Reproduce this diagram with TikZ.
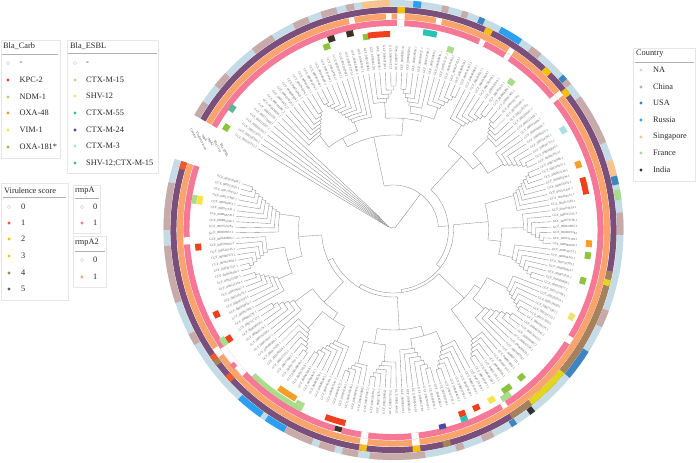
\documentclass[tikz,border=0pt]{standalone}
\usepackage{fontspec}
\setmainfont{Liberation Serif}
\definecolor{na}{HTML}{C5DBE6}
\definecolor{ch}{HTML}{C8AAA8}
\definecolor{usa}{HTML}{3D84C0}
\definecolor{rus}{HTML}{2B9FF0}
\definecolor{sg}{HTML}{F8C48E}
\definecolor{fr}{HTML}{A6DC8E}
\definecolor{ind}{HTML}{333333}
\definecolor{vone}{HTML}{F0592A}
\definecolor{vtwo}{HTML}{F5BF0C}
\definecolor{vthree}{HTML}{E2D61A}
\definecolor{vfour}{HTML}{A6825C}
\definecolor{vfive}{HTML}{7B4F7C}
\definecolor{rmpa}{HTML}{F57896}
\definecolor{rmpb}{HTML}{F9A46C}
\definecolor{kpc}{HTML}{F0401E}
\definecolor{ndm}{HTML}{A8D870}
\definecolor{oxa}{HTML}{F59F2A}
\definecolor{vim}{HTML}{F7E34A}
\definecolor{oxb}{HTML}{8CC43F}
\definecolor{mf}{HTML}{A9DC8B}
\definecolor{shv}{HTML}{EEE17A}
\definecolor{mff}{HTML}{27C4B6}
\definecolor{mtf}{HTML}{4A4AA0}
\definecolor{mt}{HTML}{A8DFE0}
\definecolor{shm}{HTML}{5FB598}
\definecolor{dk}{HTML}{3B3127}
\definecolor{treeg}{HTML}{8C8C8C}
\definecolor{lblg}{HTML}{5E5E5E}
\definecolor{boxg}{HTML}{E6E6E6}
\definecolor{ulg}{HTML}{B0B0B0}
\newcommand\rtip{158}
\newcommand\band[5]{\fill[#5] (#3:#1) arc[start angle=#3,end angle=#4,radius=#1] -- (#4:#2) arc[start angle=#4,end angle=#3,radius=#2] -- cycle;}
\newcommand\cty[3]{\band{223.5}{230}{#1}{#2}{#3}}
\newcommand\vir[3]{\band{217}{223}{#1}{#2}{#3}}
\newcommand\orr[3]{\band{210.5}{216.5}{#1}{#2}{#3}}
\newcommand\pkr[3]{\band{204}{210}{#1}{#2}{#3}}
\newcommand\jn[3]{\draw[br] (#1:#3) arc[start angle=#1,end angle=#2,radius=#3];}
\newcommand\st[3]{\draw[br] (#1:#2) -- (#1:#3);}
\newcommand\cat[5]{%
  \pgfmathsetmacro\cmid{149-(#1+#2)}%
  \draw[br] (\cmid:#5) -- (\cmid:#3);%
  \pgfmathtruncatemacro\nlast{#2-1}%
  \foreach \kk in {#1,...,\nlast}{%
    \pgfmathsetmacro\rk{#3+(\kk-#1)*#4}%
    \pgfmathsetmacro\ak{149-2*\kk}%
    \pgfmathsetmacro\mk{149-(\kk+1+#2)}%
    \pgfmathsetmacro\rn{ifthenelse(\kk<\nlast,#3+(\kk-#1+1)*#4,\rtip)}%
    \draw[br] (\ak:\rtip) -- (\ak:\rk) arc[start angle=\ak,end angle=\mk,radius=\rk] -- (\mk:\rn);%
  }%
}
\newcommand\catr[5]{%
  \pgfmathsetmacro\cmid{149-(#1+#2)}%
  \draw[br] (\cmid:#5) -- (\cmid:#3);%
  \pgfmathtruncatemacro\nj{#2-#1-1}%
  \foreach \jj in {0,...,\nj}{%
    \pgfmathtruncatemacro\kk{#2-\jj}%
    \pgfmathsetmacro\rk{#3+\jj*#4}%
    \pgfmathsetmacro\ak{149-2*\kk}%
    \pgfmathsetmacro\mk{149-(#1+\kk-1)}%
    \pgfmathsetmacro\rn{ifthenelse(\jj<\nj,#3+(\jj+1)*#4,\rtip)}%
    \draw[br] (\ak:\rtip) -- (\ak:\rk) arc[start angle=\ak,end angle=\mk,radius=\rk] -- (\mk:\rn);%
  }%
}
\newcommand\ldot[6]{\fill[#3] (#1,#2) circle (1.7); \node[lg,anchor=west] (#6) at (#4,#2) {#5};}
\newcommand\lopen[5]{\draw[gray!40,line width=0.3pt,fill=white] (#1,#2) circle (1.6); \node[lg,anchor=west] (#5) at (#3,#2) {#4};}
\begin{document}
\begin{tikzpicture}[x=1pt,y=1pt,
  br/.style={draw=treeg,line width=0.35pt},
  lbl/.style={font=\fontsize{3.2}{3.2}\selectfont,text=lblg,inner sep=0pt},
  rl/.style={font=\fontsize{3.3}{3.3}\selectfont,text=black!75,inner sep=0pt},
  lg/.style={font=\fontsize{8.3}{9}\selectfont,inner sep=0pt,text=black!85},
  box/.style={draw=boxg,line width=0.5pt},
  uline/.style={draw=ulg,line width=0.8pt}]
\useasboundingbox (0,0) rectangle (696,463);
\fill[white] (0,0) rectangle (696,463);
\begin{scope}[shift={(393.5,233)}]
% ---- rings: base
\cty{150}{-198}{na}
\vir{150}{-198}{vfive}
\orr{150}{-198}{rmpb}
\pkr{150}{-198}{rmpa}
% ---- country
\cty{150}{146}{ch}\cty{141}{137}{ch}\cty{128}{122}{ch}\cty{116}{112}{ch}
\cty{108.5}{104.5}{ch}\cty{102}{100}{ch}\cty{98}{91}{sg}\cty{85}{83}{rus}
\cty{77.7}{76}{ch}\cty{72.5}{71}{ch}\cty{68}{66.5}{usa}\cty{62}{56}{rus}
\cty{53}{50}{ch}\cty{42.5}{41}{usa}\cty{41}{39.5}{ch}\cty{35.5}{22.5}{ch}
\cty{17.7}{13.7}{sg}\cty{13.7}{11.5}{usa}\cty{10.2}{7.6}{fr}\cty{4.4}{-1.2}{ch}
\cty{-20.6}{-25}{ch}\cty{-32}{-40}{usa}\cty{-52}{-53.5}{ind}\cty{-57.5}{-59}{usa}
\cty{-64}{-67}{ch}\cty{-72}{-74}{ch}\cty{-82}{-96}{ch}\cty{-99}{-103}{ch}
\cty{-105}{-109}{ch}\cty{-111}{-118.5}{ch}\cty{-118.5}{-124}{rus}\cty{-125.5}{-132.5}{rus}
\cty{-150}{-153}{ch}\cty{-161.5}{-176}{ch}\cty{-180}{-192}{ch}
% ---- virulence
\vir{89}{87}{vtwo}\vir{65.5}{63.5}{vtwo}\vir{47}{45}{vtwo}\vir{39.5}{37.5}{vtwo}
\vir{-10.7}{-13}{vfour}\vir{-13}{-14.7}{vthree}\vir{-14.7}{-40}{vfour}
\vir{-40}{-51.6}{vthree}\vir{-51.6}{-57.8}{vfour}\vir{-75}{-77}{vfour}
\vir{-83}{-85}{vtwo}\vir{-97}{-99}{vtwo}\vir{-144}{-145.5}{vone}\vir{-142.5}{-144}{vfour}
\vir{-137}{-139}{vone}\vir{-196}{-198}{vone}
% ---- rmpA2 gaps
\orr{102}{100.5}{white}\orr{92}{90.5}{white}\orr{89}{87}{white}\orr{78.5}{77}{white}
\orr{57.5}{56}{white}\orr{40}{38.5}{white}\orr{-83}{-85}{white}\orr{-97}{-99}{white}
\orr{-144}{-146.5}{white}
% ---- rmpA gaps
\pkr{89}{87}{white}\pkr{65.5}{64}{white}\pkr{57.5}{56}{white}\pkr{40}{38.5}{white}
\pkr{-31}{-33}{white}\pkr{-57}{-58.5}{white}\pkr{-83}{-85}{white}\pkr{-97}{-99}{white}
\pkr{-104.5}{-106.5}{white}\pkr{-136}{-145.5}{white}\pkr{-176}{-178}{white}
\band{207}{212}{-139}{-140.5}{rmpa}
% ---- Bla squares
\band{198}{204}{109}{107}{dk}\band{198}{204}{103.5}{101.5}{dk}
\band{192}{198}{111}{109}{oxb}\band{192}{198}{99}{97}{oxb}
\band{193}{199}{97.5}{91}{kpc}\band{197}{203}{81.5}{77.5}{mff}
\band{186}{192}{73.5}{71.5}{mf}\band{186}{192}{52.5}{50.5}{mf}
\band{194}{200}{31.5}{29.5}{mt}\band{193}{199}{20.5}{18.5}{oxa}
\band{193}{199}{15.5}{10.5}{kpc}\band{193}{199}{-3}{-5}{oxa}
\band{193}{199}{-6.5}{-8.5}{oxb}\band{193}{199}{-14}{-16}{oxb}
\band{195}{201}{-25}{-27}{shv}\band{192}{198}{-48}{-50}{oxb}
\band{192}{198}{-53}{-56}{oxb}\band{198}{204}{-54.5}{-57.5}{mf}
\band{193}{199}{-59}{-61}{vim}\band{193}{199}{-64}{-66}{kpc}
\band{193}{199}{-68.5}{-70.5}{kpc}\band{199}{204}{-68.5}{-70.5}{mff}
\band{200}{205}{-75}{-77}{mtf}\band{204}{209}{-104.5}{-106.5}{dk}
\band{196}{202}{-104}{-110}{kpc}\band{199}{204}{-117}{-134}{mf}
\band{192}{198}{-120}{-126}{oxa}\band{195}{199}{-117}{-119.5}{mf}
\band{194}{200}{-145.5}{-147.5}{kpc}\band{200}{206}{-145.5}{-148}{mf}
\band{193}{199}{-153.5}{-155.5}{kpc}\band{193}{199}{-174}{-176}{kpc}
\band{199}{204}{-187.5}{-190}{mf}\band{193}{199}{-187.5}{-190}{vim}
\band{199}{205}{144}{142}{shm}\band{193}{199}{149.5}{147.5}{oxb}
% ---- ring labels
\node[rl,anchor=west,rotate=-62] (rlc) at (153.5:226.75) {Country};
\node[rl,anchor=west,rotate=-62] (rlv) at (153.5:220) {Virulence score};
\node[rl,anchor=west,rotate=-62] (rla) at (153.5:213.5) {rmpA};
\node[rl,anchor=west,rotate=-62] (rlb) at (153.5:207) {rmpA2};
\node[rl,anchor=west,rotate=-62] (rlk) at (153.5:200) {Bla\_Carb};
\node[rl,anchor=west,rotate=-62] (rle) at (153.5:193) {Bla\_ESBL};
% ---- tree
\jn{143}{53.1}{3}
\st{53.1}{3}{45}
\cat{0}{6}{6}{2.5}{3}
\jn{102}{4.3}{45}
\st{102}{45}{95}
\st{4.3}{45}{55}
\jn{119}{85}{95}
\st{119}{95}{105}
\st{85}{95}{112}
\jn{128}{110}{105}
\cat{7}{14}{120}{3}{105}
\catr{15}{24}{115}{3.5}{105}
\jn{94}{76}{112}
\cat{25}{30}{128}{4}{112}
\st{76}{112}{118}
\jn{82}{70}{118}
\catr{31}{36}{125}{4}{118}
\cat{37}{42}{130}{4}{118}
\jn{47.25}{-38.7}{55}
\st{47.25}{55}{100}
\st{-38.7}{55}{60}
\jn{57}{37.5}{100}
\cat{43}{49}{125}{4}{100}
\st{37.5}{100}{110}
\jn{44}{31}{110}
\catr{50}{55}{132}{3.5}{110}
\cat{56}{62}{128}{4}{110}
\jn{5}{-82.45}{60}
\st{5}{60}{95}
\st{-82.45}{60}{63}
\jn{16}{-6}{95}
\catr{63}{70}{125}{3.5}{95}
\st{-6}{95}{108}
\jn{1}{-13}{108}
\cat{71}{77}{130}{4}{108}
\cat{78}{84}{122}{4.5}{108}
\jn{-44}{-120.9}{63}
\st{-44}{63}{98}
\st{-120.9}{63}{67}
\jn{-34}{-54}{98}
\st{-34}{98}{105}
\jn{-27}{-41}{105}
\cat{85}{91}{128}{4}{105}
\catr{92}{98}{120}{5}{105}
\cat{99}{104}{135}{3.5}{98}
\jn{-86.75}{-155}{67}
\st{-86.75}{67}{100}
\st{-155}{67}{72}
\jn{-74}{-99.5}{100}
\st{-74}{100}{110}
\jn{-67}{-81}{110}
\cat{105}{111}{126}{4}{110}
\catr{112}{118}{120}{4.5}{110}
\st{-99.5}{100}{115}
\jn{-94}{-105}{115}
\cat{119}{124}{132}{4}{115}
\cat{125}{129}{138}{3.5}{115}
\jn{-134}{-176}{72}
\st{-134}{72}{100}
\st{-176}{72}{95}
\jn{-124}{-144}{100}
\st{-124}{100}{108}
\jn{-117}{-131}{108}
\cat{130}{136}{125}{4}{108}
\catr{137}{143}{130}{4}{108}
\cat{144}{149}{122}{5}{100}
\jn{-164}{-188}{95}
\st{-164}{95}{110}
\jn{-157}{-171}{110}
\cat{150}{156}{125}{4}{110}
\catr{157}{163}{128}{4}{110}
\cat{164}{173}{115}{4}{95}
% ---- leaf labels
\foreach \ii in {0,...,173}{%
  \pgfmathsetmacro\ang{149-2*\ii}%
  \pgfmathtruncatemacro\flip{or(\ang>90,\ang<-90)}%
  \pgfmathtruncatemacro\nb{mod(\ii*53+7,900)+100}%
  \pgfmathtruncatemacro\nc{mod(\ii*71+13,900)+100}%
  \ifnum\flip=1
    \node[lbl,anchor=east,rotate=\ang+180] (l\ii) at (\ang:159.5) {GCF\_000\nb\nc.1};
  \else
    \node[lbl,anchor=west,rotate=\ang] (l\ii) at (\ang:159.5) {GCF\_000\nb\nc.1};
  \fi
}
\end{scope}
% ---- legends
% Bla_Carb
\draw[box] (1,423) rectangle (60,305);
\node[lg,anchor=west] (tcarb) at (3,416.5) {Bla\_Carb};
\draw[uline] (2,409) -- (58,409);
\lopen{8}{400}{19.5}{-}{c0}
\ldot{8}{383}{kpc}{19.5}{KPC-2}{c1}
\ldot{8}{366}{ndm}{19.5}{NDM-1}{c2}
\ldot{8}{350}{oxa}{19.5}{OXA-48}{c3}
\ldot{8}{333}{vim}{19.5}{VIM-1}{c4}
\ldot{8}{316}{oxb}{19.5}{OXA-181*}{c5}
% Bla_ESBL
\draw[box] (67,423) rectangle (158,290);
\node[lg,anchor=west] (tesbl) at (70,416.5) {Bla\_ESBL};
\draw[uline] (68,410) -- (157,410);
\lopen{75}{400}{86}{-}{e0}
\ldot{75}{383}{mf}{86}{CTX-M-15}{e1}
\ldot{75}{367}{shv}{86}{SHV-12}{e2}
\ldot{75}{350}{mff}{86}{CTX-M-55}{e3}
\ldot{75}{333}{mtf}{86}{CTX-M-24}{e4}
\ldot{75}{317}{mt}{86}{CTX-M-3}{e5}
\ldot{75}{300}{shm}{86}{SHV-12;CTX-M-15}{e6}
% Virulence score
\draw[box] (1,280) rectangle (68,163);
\node[lg,anchor=west] (tvir) at (4,272) {Virulence score};
\draw[uline] (3,266) -- (66,266);
\lopen{9}{256}{21}{0}{v0}
\ldot{9}{240}{vone}{21}{1}{v1}
\ldot{9}{224}{vtwo}{21}{2}{v2}
\ldot{9}{207}{vthree}{21}{3}{v3}
\ldot{9}{190}{vfour}{21}{4}{v4}
\ldot{9}{174}{vfive}{21}{5}{v5}
% rmpA
\draw[box] (73,278) rectangle (100,230);
\node[lg,anchor=west] (trmpa) at (75,272) {rmpA};
\draw[uline] (75,265) -- (99,265);
\lopen{82}{256}{93}{0}{a0}
\ldot{82}{240}{rmpa}{93}{1}{a1}
% rmpA2
\draw[box] (73,227) rectangle (106,176);
\node[lg,anchor=west] (trmpb) at (75,220) {rmpA2};
\draw[uline] (75,212) -- (105,212);
\lopen{82}{203}{93}{0}{b0}
\ldot{82}{186}{rmpb}{93}{1}{b1}
% Country
\draw[box] (633,415) rectangle (695.5,282);
\node[lg,anchor=west] (tcty) at (636,409) {Country};
\draw[uline] (635,401) -- (694,401);
\ldot{641}{393}{na}{653}{NA}{k0}
\ldot{641}{376}{ch}{653}{China}{k1}
\ldot{641}{360}{usa}{653}{USA}{k2}
\ldot{641}{343}{rus}{653}{Russia}{k3}
\ldot{641}{326}{sg}{653}{Singapore}{k4}
\ldot{641}{310}{fr}{653}{France}{k5}
\ldot{641}{293}{ind}{653}{India}{k6}
\end{tikzpicture}
\end{document}
